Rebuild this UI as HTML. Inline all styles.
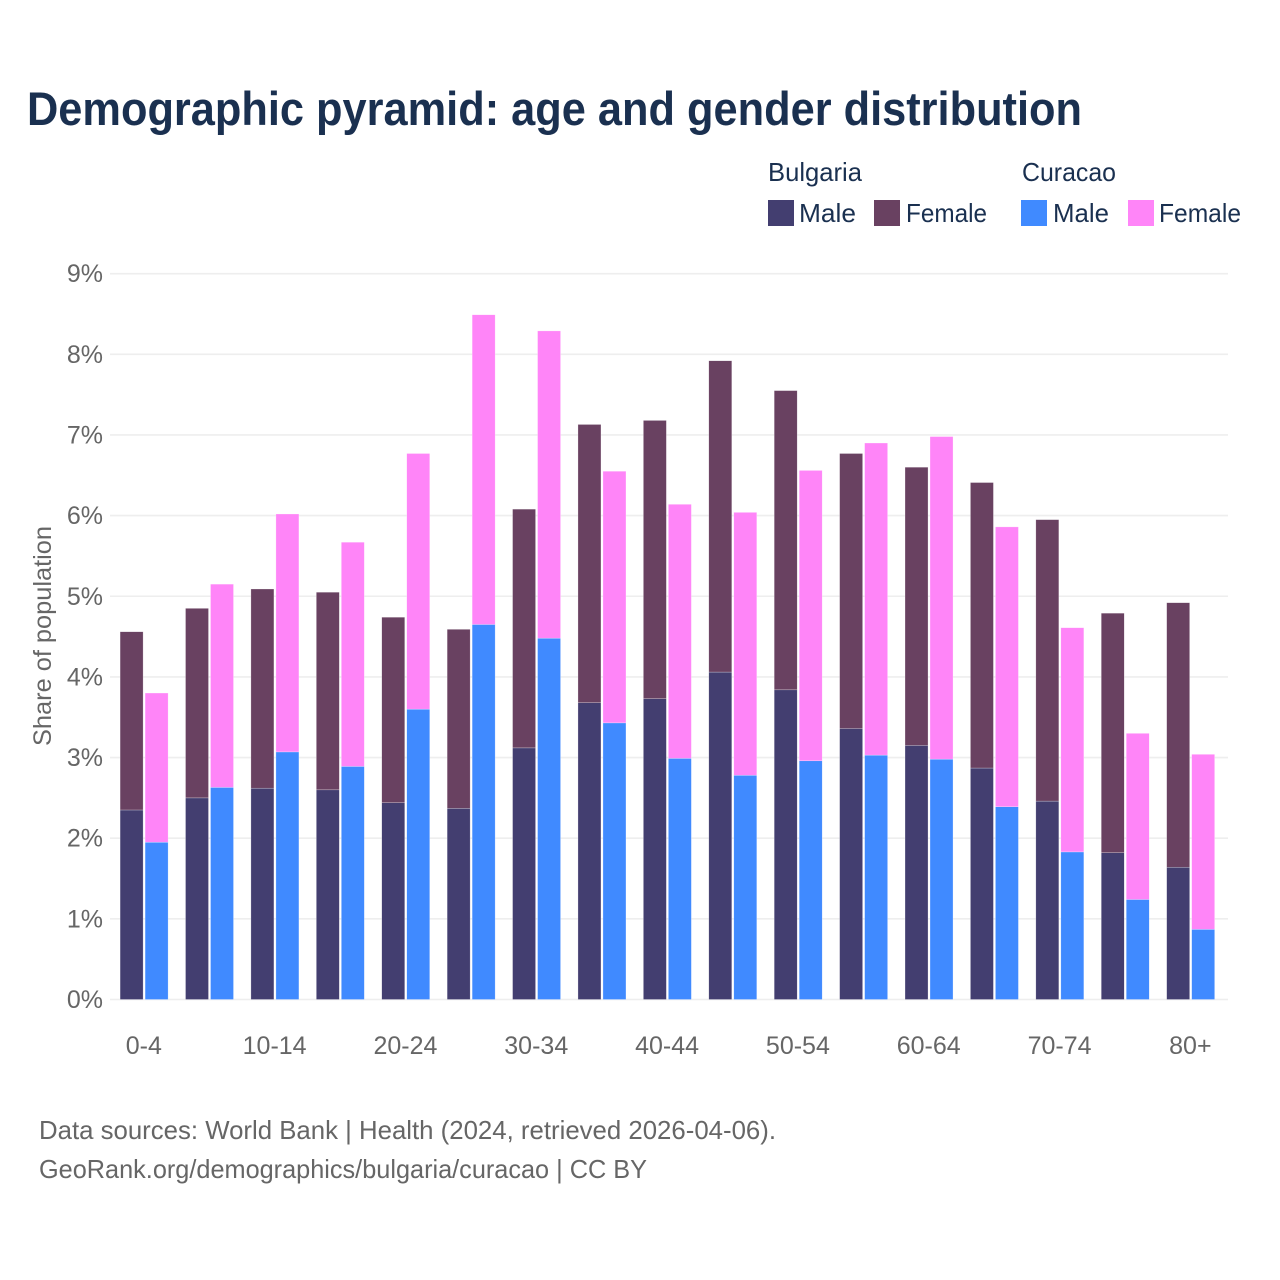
<!DOCTYPE html>
<html lang="en">
<head>
<meta charset="utf-8">
<title>Demographic pyramid</title>
<style>
html,body{margin:0;padding:0;background:#fff;}
svg{display:block;font-family:"Liberation Sans",Arial,sans-serif;}
</style>
</head>
<body>
<svg id="chart" width="1280" height="1280" viewBox="0 0 1280 1280" xmlns="http://www.w3.org/2000/svg">
<rect x="0" y="0" width="1280" height="1280" fill="#ffffff"/>
<text x="27" y="125" font-size="47" font-weight="700" fill="#1a3050" textLength="1055" lengthAdjust="spacingAndGlyphs">Demographic pyramid: age and gender distribution</text>

<g font-size="26" fill="#1a3050">
<text x="768" y="181" textLength="94" lengthAdjust="spacingAndGlyphs">Bulgaria</text>
<text x="1022" y="181" textLength="94" lengthAdjust="spacingAndGlyphs">Curacao</text>
<rect x="768" y="200" width="26" height="26" fill="#433e70"/>
<text x="799" y="222" textLength="57" lengthAdjust="spacingAndGlyphs">Male</text>
<rect x="874" y="200" width="26" height="26" fill="#694161"/>
<text x="906" y="222" textLength="81" lengthAdjust="spacingAndGlyphs">Female</text>
<rect x="1021" y="200" width="26" height="26" fill="#408aff"/>
<text x="1053" y="222" textLength="56" lengthAdjust="spacingAndGlyphs">Male</text>
<rect x="1128" y="200" width="26" height="26" fill="#ff85f8"/>
<text x="1159" y="222" textLength="82" lengthAdjust="spacingAndGlyphs">Female</text>
</g>

<g id="grid"></g>
<g id="bars"></g>
<g id="yticks" font-size="25" fill="#666666"></g>
<g id="xticks" font-size="25" fill="#666666"></g>

<text transform="translate(51,636) rotate(-90)" text-anchor="middle" font-size="25" fill="#666666" textLength="220" lengthAdjust="spacingAndGlyphs">Share of population</text>

<text x="39" y="1139" font-size="26" fill="#666666" textLength="737" lengthAdjust="spacingAndGlyphs">Data sources: World Bank | Health (2024, retrieved 2026-04-06).</text>
<text x="39" y="1178" font-size="26" fill="#666666" textLength="608" lengthAdjust="spacingAndGlyphs">GeoRank.org/demographics/bulgaria/curacao | CC BY</text>
</svg>

<script>
var categories = ["0-4","5-9","10-14","15-19","20-24","25-29","30-34","35-39","40-44","45-49","50-54","55-59","60-64","65-69","70-74","75-79","80+"];
var tickLabels = ["0-4","10-14","20-24","30-34","40-44","50-54","60-64","70-74","80+"];
var yTickValues = [0,1,2,3,4,5,6,7,8,9];
var bulgariaMale = [2.35,2.50,2.62,2.60,2.44,2.37,3.12,3.68,3.73,4.06,3.84,3.36,3.15,2.87,2.46,1.82,1.64];
var bulgariaFemale = [2.21,2.35,2.47,2.45,2.30,2.22,2.96,3.45,3.45,3.86,3.71,3.41,3.45,3.54,3.49,2.97,3.28];
var curacaoMale = [1.95,2.63,3.07,2.89,3.60,4.65,4.48,3.43,2.99,2.78,2.96,3.03,2.98,2.39,1.83,1.24,0.87];
var curacaoFemale = [1.85,2.52,2.95,2.78,3.17,3.84,3.81,3.12,3.15,3.26,3.60,3.87,4.00,3.47,2.78,2.06,2.17];

var SVG_NS = "http://www.w3.org/2000/svg";
var yZero = 999.5, yUnit = 80.65;
var xFirst = 144.1, xStep = 65.41;
var barWidth = 23, barOffset = 12.5;

function yScale(v) { return yZero - v * yUnit; }
function xScale(i) { return xFirst + i * xStep; }
function make(tag, attrs) {
  var el = document.createElementNS(SVG_NS, tag);
  for (var k in attrs) { el.setAttribute(k, attrs[k]); }
  return el;
}

var gridGroup = document.getElementById("grid");
var yTickGroup = document.getElementById("yticks");
yTickValues.forEach(function (v) {
  var line = make("line", { x1: 110, x2: 1228, y1: yScale(v), y2: yScale(v), stroke: "#eeeeee", "stroke-width": 1.6 });
  
  
  gridGroup.appendChild(line);
  var label = make("text", { x: 103, y: yScale(v) + 8.5, "text-anchor": "end" });
  
  
  label.textContent = v + "%";
  yTickGroup.appendChild(label);
});

var xTickGroup = document.getElementById("xticks");
tickLabels.forEach(function (t) {
  var i = categories.indexOf(t);
  var label = make("text", { x: xScale(i) - 0.3, y: 1054, "text-anchor": "middle" });
  
  
  label.textContent = t;
  xTickGroup.appendChild(label);
});

var barGroup = document.getElementById("bars");
function drawBar(x, base, value, fill) {
  var rect = make("rect", {
    x: x - barWidth / 2,
    y: yScale(base + value),
    width: barWidth,
    height: value * yUnit,
    fill: fill,
    stroke: "#ffffff",
    "stroke-opacity": 0.5,
    "stroke-width": 0.5
  });
  
  
  barGroup.appendChild(rect);
}
categories.forEach(function (c, i) {
  var cx = xScale(i);
  drawBar(cx - barOffset, 0, bulgariaMale[i], "#433e70");
  drawBar(cx - barOffset, bulgariaMale[i], bulgariaFemale[i], "#694161");
  drawBar(cx + barOffset, 0, curacaoMale[i], "#408aff");
  drawBar(cx + barOffset, curacaoMale[i], curacaoFemale[i], "#ff85f8");
});
</script>
</body>
</html>
